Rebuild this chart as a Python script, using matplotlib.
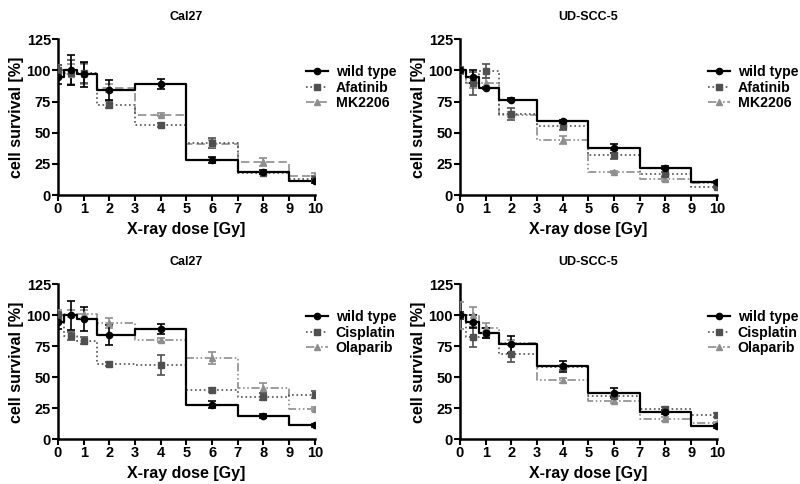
import matplotlib
matplotlib.use("Agg")
import matplotlib.pyplot as plt

plt.rcParams['font.family'] = ['Liberation Sans', 'DejaVu Sans']
plt.rcParams['font.weight'] = 'bold'

dose = [0, 0.5, 1, 2, 4, 6, 8, 10]

# Cal27
cal_wt = [95, 100, 97, 84, 89, 28, 18.7, 11.2]
cal_wt_err = [6, 12, 10, 8, 4, 2.5, 1.5, 1.5]
cal_afa = [100, 98, 98, 72.5, 56, 42, 18, 13]
cal_afa_err = [4, 10, 8, 3, 1.5, 4, 1.5, 2]
cal_mk = [100, 97, 97, 86, 64.5, 41, 26.5, 15.5]
cal_mk_err = [4, 8, 8, 3, 1, 3, 3, 2]
cal_cis = [100, 83.5, 79.5, 60.5, 60, 39.5, 34.5, 36]
cal_cis_err = [3, 3, 3, 1.5, 8, 1.5, 2.5, 3]
cal_ola = [100, 101.5, 101, 94, 80, 65.5, 41.5, 24.5]
cal_ola_err = [4, 3, 3, 4, 1.5, 5, 4, 1.5]

# UD-SCC-5
ud_wt = [100, 95, 86, 76.5, 59, 37.5, 22, 10.5]
ud_wt_err1 = [2, 5, 1, 1, 1.5, 3.5, 1, 1]
ud_wt_err2 = [3, 5, 4, 7, 4.5, 3.5, 1.5, 1]
ud_afa = [100, 89.5, 99.5, 65, 55, 32.5, 16.5, 6.5]
ud_afa_err = [3, 9, 6, 5, 3, 3.5, 2, 1]
ud_mk = [100, 90, 90, 64.5, 44, 18.5, 13, 9.5]
ud_mk_err = [2, 4, 4, 2, 3, 1, 2, 1]
ud_cis = [100, 82.5, 86, 69, 58, 35, 24.5, 19.5]
ud_cis_err = [2, 8, 4, 7, 2, 2, 1.5, 1.5]
ud_ola = [100, 100, 90, 78, 47.5, 31, 16.5, 13]
ud_ola_err = [11, 7, 4, 2, 2, 2, 1.5, 1]

yticks = [0, 25, 50, 75, 100, 125]
xticks = list(range(0, 11))

c_wt = 'black'
c_dark = '#505050'
c_light = '#8e8e8e'
dashdotdot = (0, (5, 1.5, 1, 1.5, 1, 1.5))

panels = [
    ("Cal27", [0.0725, 0.597, 0.321, 0.322],
     [("wild type", cal_wt, cal_wt_err, c_wt, '-', 'o'),
      ("Afatinib", cal_afa, cal_afa_err, c_dark, ':', 's'),
      ("MK2206", cal_mk, cal_mk_err, c_light, (0, (5, 2.5)), '^')]),
    ("UD-SCC-5", [0.575, 0.597, 0.321, 0.322],
     [("wild type", ud_wt, ud_wt_err1, c_wt, '-', 'o'),
      ("Afatinib", ud_afa, ud_afa_err, c_dark, ':', 's'),
      ("MK2206", ud_mk, ud_mk_err, c_light, dashdotdot, '^')]),
    ("Cal27", [0.0725, 0.0924, 0.321, 0.320],
     [("wild type", cal_wt, cal_wt_err, c_wt, '-', 'o'),
      ("Cisplatin", cal_cis, cal_cis_err, c_dark, ':', 's'),
      ("Olaparib", cal_ola, cal_ola_err, c_light, dashdotdot, '^')]),
    ("UD-SCC-5", [0.575, 0.0924, 0.321, 0.320],
     [("wild type", ud_wt, ud_wt_err2, c_wt, '-', 'o'),
      ("Cisplatin", ud_cis, ud_cis_err, c_dark, ':', 's'),
      ("Olaparib", ud_ola, ud_ola_err, c_light, dashdotdot, '^')]),
]

fig = plt.figure(figsize=(8, 4.84), dpi=100)

for title, rect, series in panels:
    ax = fig.add_axes(rect)
    handles = []
    # treated series first so wild type ends up on top
    for name, vals, errs, col, ls, mk in reversed(series):
        lw = 1.6 if col == c_wt else 1.2
        ms = 4.5 if mk != '^' else 4
        ax.errorbar(dose, vals, yerr=errs, fmt='none', ecolor=col,
                    elinewidth=1.2, capsize=3, capthick=1.2, zorder=3)
        ax.step(dose, vals, where='mid', color=col, linestyle=ls,
                linewidth=lw, zorder=2)
        ax.plot(dose, vals, linestyle='none', marker=mk, color=col,
                markersize=ms, zorder=4)
        h, = ax.plot([], [], color=col, linestyle=ls, linewidth=lw,
                     marker=mk, markersize=ms, label=name)
        handles.insert(0, h)
    ax.set_xlim(0, 10)
    ax.set_ylim(0, 125)
    ax.set_xticks(xticks)
    ax.set_yticks(yticks)
    for s in ['top', 'right']:
        ax.spines[s].set_visible(False)
    for s in ['left', 'bottom']:
        ax.spines[s].set_linewidth(1.8)
    ax.tick_params(width=1.5, length=4, labelsize=10.5, pad=1)
    for lab in ax.get_xticklabels() + ax.get_yticklabels():
        lab.set_fontweight('bold')
    ax.set_xlabel("X-ray dose [Gy]", fontsize=11.5, fontweight='bold', labelpad=4)
    ax.set_ylabel("cell survival [%]", fontsize=11.5, fontweight='bold', labelpad=2)
    ax.set_title(title, fontsize=9, fontweight='bold', pad=14)
    ax.legend(handles=handles, loc='upper left', bbox_to_anchor=(0.965, 0.835),
              frameon=False, handlelength=1.6, handletextpad=0.5,
              labelspacing=0.12, borderpad=0, borderaxespad=0,
              prop={'weight': 'bold', 'size': 10.2})

fig.savefig("out.png", dpi=100)
